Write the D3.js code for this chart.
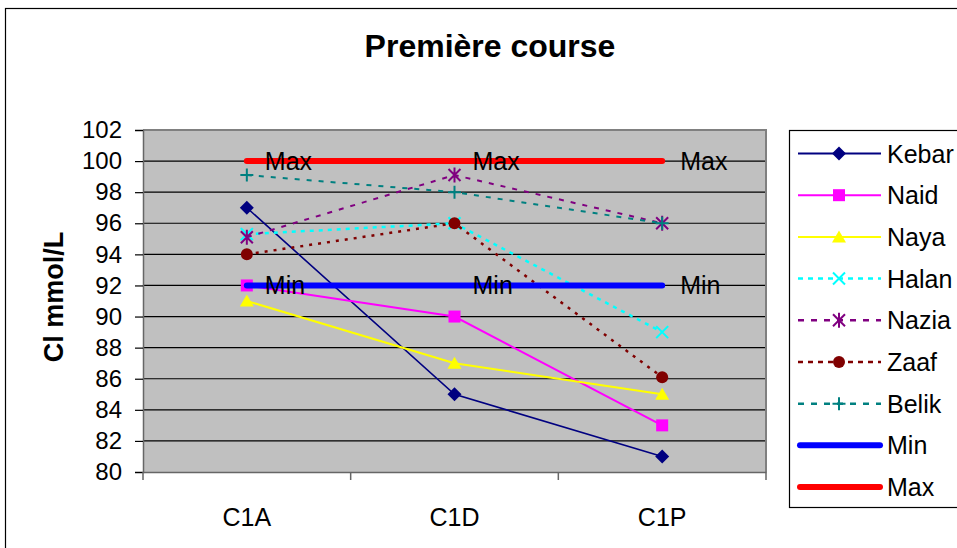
<!DOCTYPE html>
<html>
<head>
<meta charset="utf-8">
<script src="https://cdn.jsdelivr.net/npm/d3@7"></script>
<style>
  body { margin: 0; background: #fff; }
  svg { display: block; }
  text { font-family: "Liberation Sans", Arial, sans-serif; fill: #000; }
</style>
</head>
<body>
<svg id="chart" width="957" height="548"></svg>
<script>
// Chloride values (mmol/L) for each rider across the three sampling points
const categories = ["C1A", "C1D", "C1P"];
const kebar = [97, 85, 81];
const naid  = [92, 90, 83];
const naya  = [91, 87, 85];
const halan = [95.3, 96, 89];
const nazia = [95.1, 99.1, 96];
const zaaf  = [94, 96, 86.1];
const belik = [99.1, 98, 96];
const minRef = [92, 92, 92];
const maxRef = [100, 100, 100];
const yTicks = [80, 82, 84, 86, 88, 90, 92, 94, 96, 98, 100, 102];
const seriesNames = ["Kebar", "Naid", "Naya", "Halan", "Nazia", "Zaaf", "Belik", "Min", "Max"];

// Drawing style for every series
const styles = {
  Kebar: { values: kebar,  color: "#000080", width: 1.6, dash: null,  legendDash: null,  marker: "diamond" },
  Naid:  { values: naid,   color: "#FF00FF", width: 2,   dash: null,  legendDash: null,  marker: "square" },
  Naya:  { values: naya,   color: "#FFFF00", width: 2,   dash: null,  legendDash: null,  marker: "triangle" },
  Halan: { values: halan,  color: "#00FFFF", width: 2.5, dash: "4,5", legendDash: "5,5", marker: "x" },
  Nazia: { values: nazia,  color: "#800080", width: 2,   dash: "5,7", legendDash: "6,7", marker: "star" },
  Zaaf:  { values: zaaf,   color: "#800000", width: 2.5, dash: "3,6", legendDash: "5,5", marker: "circle" },
  Belik: { values: belik,  color: "#008080", width: 2,   dash: "5,7", legendDash: "6,7", marker: "plus" },
  Min:   { values: minRef, color: "#0000FF", width: 6,   dash: null,  legendDash: null,  marker: null, label: "Min" },
  Max:   { values: maxRef, color: "#FF0000", width: 6,   dash: null,  legendDash: null,  marker: null, label: "Max" }
};

const svg = d3.select("#chart");

// Outer chart frame
svg.append("rect")
  .attr("x", 5.5).attr("y", 8.5)
  .attr("width", 1200).attr("height", 1200)
  .attr("fill", "#fff").attr("stroke", "#000").attr("stroke-width", 1.2);

const plot = { left: 143, right: 766, top: 130, bottom: 472 };

const x = d3.scaleBand().domain(categories).range([plot.left, plot.right]).padding(0);
const y = d3.scaleLinear().domain([80, 102]).range([plot.bottom, plot.top]);
const cx = c => x(c) + x.bandwidth() / 2;

// Title
svg.append("text")
  .attr("x", 490).attr("y", 57)
  .attr("text-anchor", "middle")
  .attr("font-size", 32).attr("font-weight", "bold")
  .text("Première course");

// Y axis title
svg.append("text")
  .attr("transform", "translate(63,297) rotate(-90)")
  .attr("text-anchor", "middle")
  .attr("font-size", 27).attr("font-weight", "bold")
  .text("Cl mmol/L");

// Plot background
svg.append("rect")
  .attr("x", plot.left).attr("y", plot.top)
  .attr("width", plot.right - plot.left).attr("height", plot.bottom - plot.top)
  .attr("fill", "#C0C0C0");

// Horizontal gridlines
svg.append("g")
  .selectAll("line")
  .data(yTicks.filter(t => t > 80 && t < 102))
  .join("line")
  .attr("x1", plot.left).attr("x2", plot.right)
  .attr("y1", d => y(d)).attr("y2", d => y(d))
  .attr("stroke", "#000").attr("stroke-width", 1.2);

// Plot border (top and right)
svg.append("path")
  .attr("d", `M${plot.left},${plot.top}H${plot.right}V${plot.bottom}`)
  .attr("fill", "none").attr("stroke", "#808080").attr("stroke-width", 2);

// Y axis
const yAxis = svg.append("g")
  .attr("transform", `translate(${plot.left},0)`)
  .call(d3.axisLeft(y).tickValues(yTicks).tickSize(8).tickPadding(13).tickFormat(d3.format("d")));
yAxis.select(".domain").attr("stroke", "#666").attr("stroke-width", 1.5);
yAxis.selectAll(".tick line").attr("stroke", "#000").attr("stroke-width", 1.2);
yAxis.selectAll(".tick text").attr("font-size", 24).attr("font-family", '"Liberation Sans", Arial, sans-serif');

// X axis with tick marks at the category boundaries
const xAxis = svg.append("g")
  .attr("transform", `translate(0,${plot.bottom})`)
  .call(d3.axisBottom(x).tickSize(0).tickPadding(36));
xAxis.select(".domain").attr("stroke", "#666").attr("stroke-width", 1.5);
xAxis.selectAll(".tick text").attr("font-size", 25).attr("font-family", '"Liberation Sans", Arial, sans-serif');
xAxis.selectAll(".boundary")
  .data(categories.concat([null]))
  .join("line")
  .attr("class", "boundary")
  .attr("x1", (d, i) => i < categories.length ? x(d) : plot.right)
  .attr("x2", (d, i) => i < categories.length ? x(d) : plot.right)
  .attr("y1", 0).attr("y2", 8)
  .attr("stroke", "#666").attr("stroke-width", 1.5);

// Marker shapes
function drawMarker(g, type, color) {
  if (type === "diamond") {
    g.append("path").attr("d", "M0,-7L7,0L0,7L-7,0Z").attr("fill", color);
  } else if (type === "square") {
    g.append("rect").attr("x", -6).attr("y", -6).attr("width", 12).attr("height", 12).attr("fill", color);
  } else if (type === "triangle") {
    g.append("path").attr("d", "M0,-6.5L7,5.5L-7,5.5Z").attr("fill", color);
  } else if (type === "circle") {
    g.append("circle").attr("r", 6).attr("fill", color);
  } else if (type === "x") {
    g.append("path").attr("d", "M-6,-6L6,6M-6,6L6,-6").attr("stroke", color).attr("stroke-width", 2).attr("fill", "none");
  } else if (type === "star") {
    g.append("path").attr("d", "M-6,-6L6,6M-6,6L6,-6M0,-7.5V7.5").attr("stroke", color).attr("stroke-width", 2).attr("fill", "none");
  } else if (type === "plus") {
    g.append("path").attr("d", "M-6.5,0H6.5M0,-6.5V6.5").attr("stroke", color).attr("stroke-width", 2).attr("fill", "none");
  }
}

const line = d3.line().x(d => cx(d.c)).y(d => y(d.v));

// Series lines and markers
seriesNames.forEach(name => {
  const s = styles[name];
  const pts = categories.map((c, i) => ({ c, v: s.values[i] }));
  const g = svg.append("g");
  g.append("path")
    .datum(pts)
    .attr("d", line)
    .attr("fill", "none")
    .attr("stroke", s.color)
    .attr("stroke-width", s.width)
    .attr("stroke-dasharray", s.dash)
    .attr("stroke-linecap", s.marker ? "butt" : "round");
  if (s.marker) {
    pts.forEach(p => {
      drawMarker(g.append("g").attr("transform", `translate(${cx(p.c)},${y(p.v)})`), s.marker, s.color);
    });
  }
});

// Data labels on the reference lines
seriesNames.filter(n => styles[n].label).forEach(name => {
  const s = styles[name];
  svg.append("g").selectAll("text")
    .data(categories.map((c, i) => ({ c, v: s.values[i] })))
    .join("text")
    .attr("x", d => cx(d.c) + 18)
    .attr("y", d => y(d.v))
    .attr("dy", "0.36em")
    .attr("font-size", 25)
    .text(s.label);
});

// Legend
const legend = svg.append("g");
legend.append("rect")
  .attr("x", 789.5).attr("y", 130.5)
  .attr("width", 300).attr("height", 377)
  .attr("fill", "#fff").attr("stroke", "#000").attr("stroke-width", 1.2);

const legendY = d3.scalePoint().domain(seriesNames).range([153.5, 487]);
seriesNames.forEach(name => {
  const s = styles[name];
  const ly = legendY(name);
  const row = legend.append("g").attr("transform", `translate(0,${ly})`);
  if (s.marker) {
    row.append("line")
      .attr("x1", 798).attr("x2", 881).attr("y1", 0).attr("y2", 0)
      .attr("stroke", s.color).attr("stroke-width", s.legendDash ? 2.5 : 2)
      .attr("stroke-dasharray", s.legendDash);
    drawMarker(row.append("g").attr("transform", "translate(839,0)"), s.marker, s.color);
  } else {
    row.append("line")
      .attr("x1", 800).attr("x2", 880).attr("y1", 0).attr("y2", 0)
      .attr("stroke", s.color).attr("stroke-width", 6).attr("stroke-linecap", "round");
  }
  row.append("text")
    .attr("x", 887).attr("y", 0).attr("dy", "0.36em")
    .attr("font-size", 25)
    .text(name);
});
</script>
</body>
</html>
